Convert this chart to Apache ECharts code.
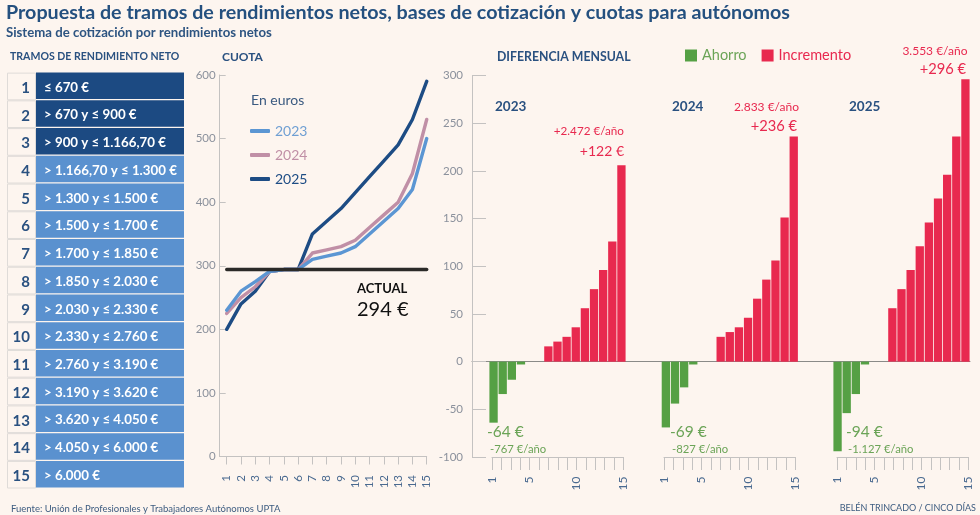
<!DOCTYPE html>
<html><head><meta charset="utf-8">
<script src="https://cdn.jsdelivr.net/npm/echarts@6/dist/echarts.min.js"></script>
<style>html,body{margin:0;padding:0;background:#fdf5ef}#c{width:980px;height:515px}</style>
</head><body><div id="c"></div>
<script>
const tramos = ['≤ 670 €','> 670 y ≤ 900 €','> 900 y ≤ 1.166,70 €','> 1.166,70 y ≤ 1.300 €','> 1.300 y ≤ 1.500 €','> 1.500 y ≤ 1.700 €','> 1.700 y ≤ 1.850 €','> 1.850 y ≤ 2.030 €','> 2.030 y ≤ 2.330 €','> 2.330 y ≤ 2.760 €','> 2.760 y ≤ 3.190 €','> 3.190 y ≤ 3.620 €','> 3.620 y ≤ 4.050 €','> 4.050 y ≤ 6.000 €','> 6.000 €'];
const cats = ['1','2','3','4','5','6','7','8','9','10','11','12','13','14','15'];
const cuota2023 = [230,260,275,291,294,294,310,315,320,330,350,370,390,420,500];
const cuota2024 = [225,250,267,291,294,294,320,325,330,340,360,380,400,445,530];
const cuota2025 = [200,240,260,291,294,294,350,370,390,415,440,465,490,530,590];
const actual = [294,294,294,294,294,294,294,294,294,294,294,294,294,294,294];
const dif2023 = [-64,-34,-19,-3,0,0,16,21,26,36,56,76,96,126,206];
const dif2024 = [-69,-44,-27,-3,0,0,26,31,36,46,66,86,106,151,236];
const dif2025 = [-94,-54,-34,-3,0,0,56,76,96,121,146,171,196,236,296];

const F='Lato', NAVY='#2a5180', GREY='#8b919c', AX='#c4c2c1', GREEN='#55a044', GREENT='#6ba457', RED='#e8294f';
const C23='#5b96d3', C24='#c08fa6', C25='#1d4c84';

function txt(t,x,y,size,color,weight,align){
  return {type:'text',x:x,y:y,silent:true,style:{text:t,font:(weight||'normal')+' '+size+'px '+F,fill:color,textAlign:align||'left',textVerticalAlign:'middle'}};
}
const texts=[
 txt('Propuesta de tramos de rendimientos netos, bases de cotización y cuotas para autónomos',6,12.5,19.7,'#24507f','bold'),
 txt('Sistema de cotización por rendimientos netos',6,33,13.2,'#2d5481','bold'),
 txt('TRAMOS DE RENDIMIENTO NETO',10,57,10.55,NAVY,'bold'),
 txt('CUOTA',222,57,12,NAVY,'bold'),
 txt('DIFERENCIA MENSUAL',497,57,12.3,NAVY,'bold'),
 txt('En euros',251,100,14,'#3a5a80'),
 txt('ACTUAL',357,289,13,'#111','bold'),
 txt('294 €',357,310,20,'#111'),
 txt('2023',495,107,13.5,NAVY,'bold'),
 txt('2024',672,107,13.5,NAVY,'bold'),
 txt('2025',849,107,13.5,NAVY,'bold'),
 txt('+2.472 €/año',624,131,11.7,RED,'normal','right'),
 txt('+122 €',624,151,14,RED,'normal','right'),
 txt('2.833 €/año',799,107,12,RED,'normal','right'),
 txt('+236 €',797,126,14.7,RED,'normal','right'),
 txt('3.553 €/año',967.5,51,12,RED,'normal','right'),
 txt('+296 €',966,69,14.7,RED,'normal','right'),
 txt('-64 €',487,432,15.5,GREENT),
 txt('-767 €/año',490,449,11.3,GREENT),
 txt('-69 €',670,432,15.5,GREENT),
 txt('-827 €/año',672,449,11.3,GREENT),
 txt('-94 €',846,432,15.5,GREENT),
 txt('-1.127 €/año',848,449,11.3,GREENT),
 txt('Fuente: Unión de Profesionales y Trabajadores Autónomos UPTA',11,508.5,9.5,'#3d5c80'),
 txt('BELÉN TRINCADO / CINCO DÍAS',976,508.5,9,'#3d5c80','normal','right')
];

const grids=[], xAxes=[], yAxes=[], series=[];
function addGrid(g,x,y){grids.push(g);x.gridIndex=y.gridIndex=grids.length-1;xAxes.push(x);yAxes.push(y);return grids.length-1;}
const none={show:false};

// tabla de tramos
const t=addGrid({left:7,top:72,width:177,height:416},
 {type:'value',min:-29,max:148,show:false},
 {type:'category',inverse:true,data:cats,show:false});
series.push({type:'bar',xAxisIndex:t,yAxisIndex:t,barWidth:27.7,barGap:'-100%',silent:true,
 data:cats.map(()=>-29),itemStyle:{color:'rgba(0,0,0,0)',borderColor:'#dfdbd8',borderWidth:1},
 label:{show:true,position:'insideRight',distance:6,offset:[0,1.5],formatter:p=>p.name,fontFamily:F,fontWeight:'bold',fontSize:15,color:NAVY}});
series.push({type:'bar',xAxisIndex:t,yAxisIndex:t,barWidth:26.5,barGap:'-100%',silent:true,
 data:tramos.map((s,i)=>({value:148,name:s,itemStyle:{color:i<3?'#1c4a82':'#5a91cf'}})),
 label:{show:true,position:'insideLeft',distance:8,offset:[0,1.5],formatter:p=>tramos[p.dataIndex],fontFamily:F,fontWeight:'bold',fontSize:13.3,color:'#fff'}});

// eje de la cuota
addGrid({left:219.7,top:75,width:207,height:381.5},
 {type:'category',data:[],axisTick:none,axisLabel:none,axisLine:{lineStyle:{color:AX,width:1}}},
 {type:'value',min:0,max:600,interval:100,splitLine:none,axisLine:{show:true,lineStyle:{color:AX,width:1}},
  axisTick:{show:true,inside:true,length:6,lineStyle:{color:AX}},axisLabel:{color:GREY,fontFamily:F,fontSize:11.5,margin:4}});
// líneas
const l=addGrid({left:226.7,top:75,width:200,height:381.5},
 {type:'category',boundaryGap:false,data:cats,axisLine:{show:false,onZero:false},
  axisTick:{show:true,length:8,interval:0,lineStyle:{color:AX}},
  axisLabel:{interval:0,rotate:90,margin:18.5,color:'#4a6a90',fontFamily:F,fontSize:11.5,verticalAlign:'middle',align:'right'}},
 {type:'value',min:0,max:600,show:false});
[['2025',cuota2025,C25],['2024',cuota2024,C24],['2023',cuota2023,C23],['Actual',actual,'#2b2a28']].forEach(s=>{
 series.push({name:s[0],type:'line',xAxisIndex:l,yAxisIndex:l,data:s[1],symbol:'none',silent:true,
  lineStyle:{color:s[2],width:3.4,cap:'round',join:'round'},itemStyle:{color:s[2]}});
});

// eje de la diferencia
addGrid({left:472,top:75.5,width:498,height:381.5},
 {type:'category',data:[],axisTick:none,axisLabel:none,axisLine:{onZero:true,lineStyle:{color:'#8a8a88',width:1}}},
 {type:'value',min:-100,max:300,interval:50,splitLine:none,axisLine:{show:true,lineStyle:{color:AX,width:1}},
  axisTick:{show:true,inside:true,length:14,lineStyle:{color:AX}},axisLabel:{color:GREY,fontFamily:F,fontSize:11.5,margin:9}});

// paneles
[[dif2023,489,492],[dif2024,661.3,664],[dif2025,833,837]].forEach(p=>{
 const b=addGrid({left:p[1],top:75.5,width:137,height:381.5},
  {type:'category',data:cats,show:false},
  {type:'value',min:-100,max:300,show:false});
 series.push({name:'Ahorro',type:'bar',xAxisIndex:b,yAxisIndex:b,barWidth:'91%',barGap:'-100%',silent:true,
  data:p[0].map(v=>v<0?v:null),itemStyle:{color:GREEN}});
 series.push({name:'Incremento',type:'bar',xAxisIndex:b,yAxisIndex:b,barWidth:'91%',barGap:'-100%',silent:true,
  data:p[0].map(v=>v>0?v:null),itemStyle:{color:RED}});
 addGrid({left:p[2],top:75.5,width:131.5,height:381.5},
  {type:'category',boundaryGap:false,data:cats,axisLine:{show:true,onZero:false,lineStyle:{color:AX,width:1}},
   axisTick:{show:true,interval:0,length:13,lineStyle:{color:AX}},
   axisLabel:{interval:(i,v)=>['1','5','10','15'].includes(v),rotate:90,margin:19.5,color:'#4a6a90',fontFamily:F,fontSize:12,align:'right',verticalAlign:'middle'}},
  {type:'value',min:-100,max:300,show:false});
});

const chart=echarts.init(document.getElementById('c'),null,{renderer:'canvas'});
chart.setOption({
 backgroundColor:'#fdf5ef',animation:false,tooltip:{show:false},
 grid:grids,xAxis:xAxes,yAxis:yAxes,series:series,
 legend:[
  {orient:'vertical',left:250,top:124,padding:0,itemWidth:20,itemHeight:4,itemGap:10,icon:'roundRect',selectedMode:false,
   data:[{name:'2023',textStyle:{color:'#6f9fd3'}},{name:'2024',textStyle:{color:C24}},{name:'2025',textStyle:{color:C25}}],
   textStyle:{fontFamily:F,fontSize:14}},
  {orient:'horizontal',left:685,top:48,padding:0,itemWidth:12,itemHeight:12,itemGap:15,icon:'rect',selectedMode:false,
   data:[{name:'Ahorro',textStyle:{color:GREENT}},{name:'Incremento',textStyle:{color:RED}}],
   textStyle:{fontFamily:F,fontSize:14.5}}
 ],
 graphic:texts
});
</script></body></html>
